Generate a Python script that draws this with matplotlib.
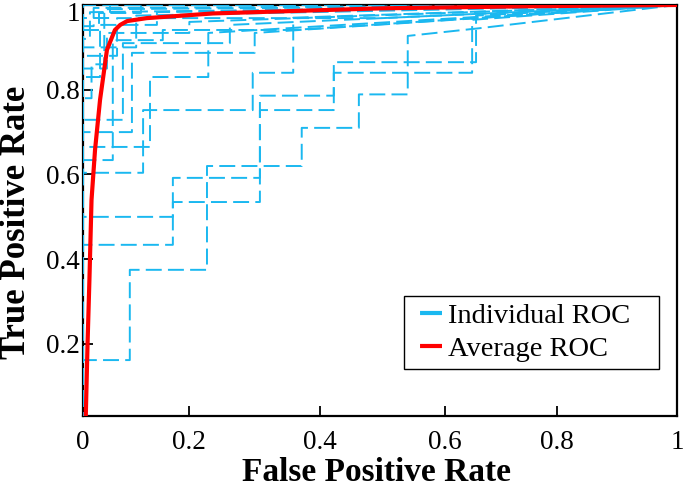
import numpy as np
import matplotlib.pyplot as plt
import matplotlib.transforms as mtransforms
from matplotlib.lines import Line2D

plt.rcParams['font.family'] = ['Liberation Serif', 'DejaVu Serif']

# individual ROC curves (false positive rate / true positive rate vertices)
individual_fpr = [
    [0, 0, 0.088, 0.088, 0.227, 0.227, 0.372, 0.372, 0.462, 0.462, 0.54, 0.54, 0.66, 1],
    [0, 0, 0.169, 0.169, 0.308, 0.308, 0.422, 0.422, 0.648, 0.648, 1],
    [0, 0, 0.169, 0.169, 0.308, 0.308, 0.422, 0.422, 0.655, 0.655, 1],
    [0, 0, 0.113, 0.113, 0.297, 0.297, 0.359, 0.359, 1],
    [0, 0, 0.126, 0.126, 0.229, 0.229, 1],
    [0, 0, 0.092, 0.092, 0.30, 0.30, 1],
    [0, 0, 0.075, 0.075, 0.262, 0.262, 1],
    [0, 0, 0.056, 0.056, 0.15, 0.15, 0.359, 0.359, 1],
    [0, 0, 0.032, 0.032, 0.139, 0.139, 1],
    [0, 0, 0.064, 0.064, 0.50, 1],
    [0, 0, 0.013, 0.013, 1],
    [0, 0, 0.02, 0.02, 1],
    [0, 0, 0.045, 0.045, 0.20, 0.20, 1],
    [0, 0, 0.10, 0.10, 1],
    [0, 0, 0.05, 0.05, 1],
    [0, 0, 0.016, 0.016, 0.04, 0.04, 1],
    [0, 0, 1],
    [0, 0, 0.03, 0.03, 0.11, 0.11, 1],
]
individual_tpr = [
    [0, 0.162, 0.162, 0.375, 0.375, 0.62, 0.62, 0.71, 0.71, 0.789, 0.789, 0.927, 0.945, 1],
    [0, 0.434, 0.434, 0.592, 0.592, 0.752, 0.752, 0.84, 0.84, 0.965, 1],
    [0, 0.50, 0.50, 0.535, 0.535, 0.786, 0.786, 0.865, 0.865, 0.975, 1],
    [0, 0.604, 0.604, 0.752, 0.752, 0.84, 0.84, 0.941, 1],
    [0, 0.665, 0.665, 0.83, 0.83, 0.934, 1],
    [0, 0.70, 0.70, 0.887, 0.887, 0.934, 1],
    [0, 0.729, 0.729, 0.91, 0.91, 0.953, 1],
    [0, 0.634, 0.634, 0.917, 0.917, 0.941, 0.941, 0.97, 1],
    [0, 0.83, 0.83, 0.953, 0.953, 0.983, 1],
    [0, 0.88, 0.88, 0.969, 0.969, 1],
    [0, 0.92, 0.92, 0.983, 1],
    [0, 0.95, 0.95, 0.993, 1],
    [0, 0.85, 0.85, 0.934, 0.934, 0.96, 1],
    [0, 0.90, 0.90, 0.975, 1],
    [0, 0.97, 0.97, 1.0, 1],
    [0, 0.78, 0.78, 0.86, 0.86, 0.99, 1],
    [0, 1.0, 1],
    [0, 0.94, 0.94, 0.98, 0.98, 1.0, 1],
]

# average ROC
avg_fpr = [0.005, 0.0085, 0.012, 0.016, 0.0226, 0.032, 0.045, 0.06, 0.07, 0.083,
           0.12, 0.236, 0.495, 0.75, 1.0]
avg_tpr = [0.02, 0.2, 0.35, 0.54, 0.658, 0.776, 0.894, 0.941, 0.953, 0.962,
           0.969, 0.98, 0.992, 0.997, 1.0]

x_ticks = [0, 0.2, 0.4, 0.6, 0.8, 1]
y_ticks = [0.2, 0.4, 0.6, 0.8, 1]
legend_labels = ['Individual ROC', 'Average ROC']

# the x axis of the original is not evenly spaced
x_tick_frac = [0, 0.179, 0.399, 0.610, 0.798, 1.0]

cyan = '#1ab8f0'

fig = plt.figure(figsize=(6.85, 4.88), dpi=100)
ax = fig.add_axes([0.1212, 0.1475, 0.8671, 0.8423])

ax.set_xscale('function', functions=(lambda v: np.interp(v, x_ticks, x_tick_frac),
                                     lambda v: np.interp(v, x_tick_frac, x_ticks)))

for fx, ty in zip(individual_fpr, individual_tpr):
    ln, = ax.plot(fx, ty, color=cyan, lw=1.4, zorder=3)
    ln.set_dashes([8.2, 3.2])

ax.plot(avg_fpr, avg_tpr, color='red', lw=3, zorder=4, solid_capstyle='butt')

ax.set_xlim(0, 1)
ax.set_ylim(0.03, 1.0)
ax.set_xticks(x_ticks)
ax.set_xticklabels(['%g' % v for v in x_ticks])
ax.set_yticks(y_ticks)
ax.set_yticklabels(['%g' % v for v in y_ticks])
ax.minorticks_off()

ax.tick_params(direction='in', length=7, width=1.3, labelsize=19.5,
               top=False, right=False)
ax.tick_params(axis='x', pad=10)
ax.tick_params(axis='y', pad=2)

# top label sits a little lower in the original
top_lab = ax.get_yticklabels()[-1]
top_lab.set_transform(top_lab.get_transform() +
                      mtransforms.ScaledTranslation(0, -5 / 72, fig.dpi_scale_trans))

for sp in ax.spines.values():
    sp.set_linewidth(1.6)
    sp.set_zorder(1)

ax.set_xlabel('False Positive Rate', fontsize=24, fontweight='bold')
ax.set_ylabel('True Positive Rate', fontsize=25, fontweight='bold')
ax.xaxis.set_label_coords(0.494, -0.1)
ax.yaxis.set_label_coords(-0.085, 0.47)

handles = [Line2D([], [], color=cyan, lw=3, linestyle=(13.1, (5.27, 10))),
           Line2D([], [], color='red', lw=3, linestyle=(13.1, (5.27, 10)))]
leg = ax.legend(handles, [s + '   ' for s in legend_labels], loc='lower right',
                bbox_to_anchor=(0.9697, 0.1144), borderaxespad=0, fontsize=20.5,
                handlelength=1.09, handletextpad=0.21, fancybox=False,
                framealpha=1, edgecolor='black', borderpad=0.25, labelspacing=0.25)
leg.get_frame().set_linewidth(1.0)

fig.savefig('out.png', dpi=100)
